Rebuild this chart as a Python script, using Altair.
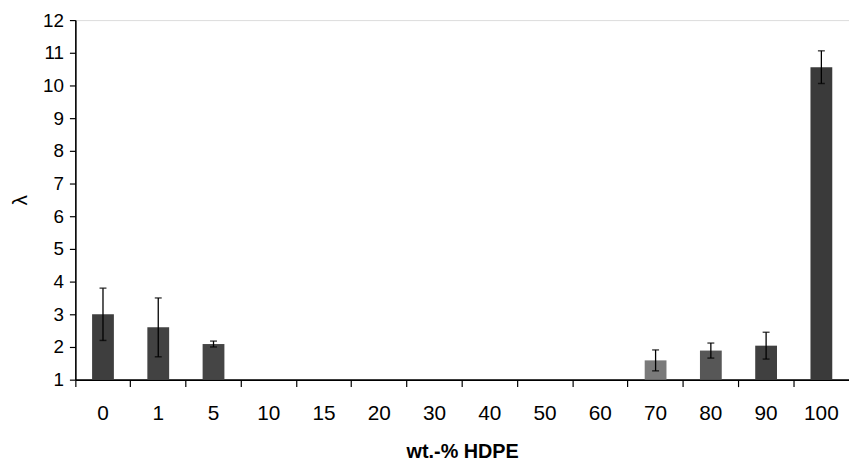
import altair as alt
import pandas as pd

categories = ["0", "1", "5", "10", "15", "20", "30", "40", "50", "60", "70", "80", "90", "100"]
values = [3.0, 2.6, 2.09, 1.0, 1.0, 1.0, 1.0, 1.0, 1.0, 1.0, 1.59, 1.89, 2.04, 10.56]
errors = [0.8, 0.9, 0.09, None, None, None, None, None, None, None, 0.32, 0.23, 0.41, 0.5]
fills = ["#3e3e3e", "#424242", "#454545", "#444444", "#444444", "#444444", "#444444",
         "#444444", "#444444", "#444444", "#7a7a7a", "#575757", "#404040", "#3a3a3a"]
y_ticks = list(range(1, 13))

df = pd.DataFrame({"cat": categories, "val": values, "err": errors, "fill": fills})
df["lo"] = df["val"] - df["err"]
df["hi"] = df["val"] + df["err"]
err_df = df.dropna(subset=["err"])

FONT = "Liberation Sans"

x_scale = alt.Scale(domain=categories, paddingInner=0, paddingOuter=0)
y_scale = alt.Scale(domain=[1, 12], zero=False, nice=False)
x_axis = alt.Axis(values=categories, labelAngle=0, bandPosition=0)
y_axis = alt.Axis(values=y_ticks, grid=False)


def X():
    return alt.X("cat:N", sort=categories, scale=x_scale, axis=x_axis, title="wt.-% HDPE")


def Y(field):
    return alt.Y(field, scale=y_scale, axis=y_axis, title="λ")


bars = alt.Chart(df).mark_bar(width=22).encode(
    x=X(),
    y=Y("val:Q"),
    y2=alt.datum(1),
    color=alt.Color("fill:N", scale=None),
)

rules = alt.Chart(err_df).mark_rule(color="black", strokeWidth=1.3).encode(
    x=X(),
    y=Y("lo:Q"),
    y2="hi:Q",
)
caps_hi = alt.Chart(err_df).mark_tick(color="black", size=7, thickness=1.5).encode(
    x=X(),
    y=Y("hi:Q"),
)
caps_lo = alt.Chart(err_df).mark_tick(color="black", size=7, thickness=1.5).encode(
    x=X(),
    y=Y("lo:Q"),
)

chart = alt.layer(bars, rules, caps_hi, caps_lo).properties(
    width=781, height=363,
    autosize=alt.AutoSizeParams(type="none"),
    padding={"left": 68, "top": 10, "right": 0, "bottom": 90},
).configure_view(stroke=None).configure(background="white").configure_axis(
    labelFont=FONT, labelColor="black", titleFont=FONT, titleColor="black",
    tickColor="black", tickWidth=1.2, domainColor="black", domainWidth=1.6,
    labelOverlap=False, grid=False,
).configure_axisX(
    labelFontSize=21, labelPadding=16, tickSize=7,
    titleFontSize=20, titleFontWeight="bold", titlePadding=19,
).configure_axisY(
    labelFontSize=19, labelPadding=6, tickSize=6, labelFlush=False,
    titleFontSize=21, titleFontWeight="normal", titlePadding=12,
)

chart.save("out.html", embed_options={"renderer": "svg", "actions": False})
